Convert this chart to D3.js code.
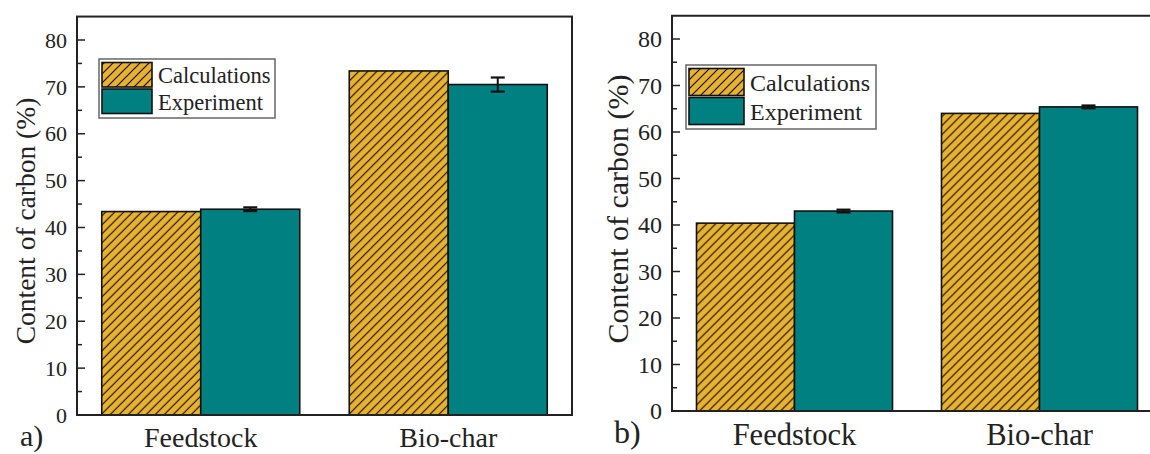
<!DOCTYPE html>
<html>
<head>
<meta charset="utf-8">
<script src="https://cdn.jsdelivr.net/npm/d3@7"></script>
<style>
  body { margin: 0; background: #fff; }
</style>
</head>
<body>
<svg id="fig" width="1150" height="454"></svg>
<script>
// data
const categories = ["Feedstock", "Bio-char"];
const seriesNames = ["Calculations", "Experiment"];
const yTicks = [0, 10, 20, 30, 40, 50, 60, 70, 80];

const calcA = [43.4, 73.4];
const expA = [43.9, 70.5];
const expErrA = [0.4, 1.5];

const calcB = [40.4, 64.0];
const expB = [43.0, 65.4];
const expErrB = [0.3, 0.3];

const orange = "#e8b130";
const teal = "#008080";
const serif = "Liberation Serif";

const svg = d3.select("#fig");

// hatch pattern for the calculated bars
const defs = svg.append("defs");
const hatch = defs.append("pattern")
    .attr("id", "hatch")
    .attr("patternUnits", "userSpaceOnUse")
    .attr("width", 9)
    .attr("height", 9);
hatch.append("rect").attr("width", 9).attr("height", 9).attr("fill", orange);
hatch.append("path")
    .attr("d", "M-1,1 L1,-1 M0,9 L9,0 M8,10 L10,8")
    .attr("stroke", "#111")
    .attr("stroke-width", 1.2);

// all labels go through this so the serif font sticks
function label(sel, size) {
    return sel.attr("font-family", serif)
        .style("font-family", serif, "important")
        .attr("font-size", size)
        .attr("fill", "#222");
}

function drawPanel(p) {
    const g = svg.append("g");

    const y = d3.scaleLinear().domain([0, 80]).range([p.bottom, p.top80]);
    const top = y(85);

    const x0 = d3.scaleBand()
        .domain(categories)
        .range([p.left, p.right])
        .paddingInner(0.2)
        .paddingOuter(0.1);
    const x1 = d3.scaleBand()
        .domain(seriesNames)
        .range([0, x0.bandwidth()]);

    // bars
    const rows = categories.map((c, i) => ({ cat: c, calc: p.calc[i], exp: p.exp[i], err: p.err[i] }));

    const grp = g.selectAll(".grp")
        .data(rows)
        .enter()
        .append("g")
        .attr("transform", d => `translate(${x0(d.cat)},0)`);

    grp.append("rect")
        .attr("x", x1("Calculations"))
        .attr("y", d => y(d.calc))
        .attr("width", x1.bandwidth())
        .attr("height", d => y(0) - y(d.calc))
        .attr("fill", "url(#hatch)")
        .attr("stroke", "#111")
        .attr("stroke-width", 1.6);

    grp.append("rect")
        .attr("x", x1("Experiment"))
        .attr("y", d => y(d.exp))
        .attr("width", x1.bandwidth())
        .attr("height", d => y(0) - y(d.exp))
        .attr("fill", teal)
        .attr("stroke", "#111")
        .attr("stroke-width", 1.6);

    // error bars
    const cx = x1("Experiment") + x1.bandwidth() / 2;
    const cap = 7;
    grp.append("line")
        .attr("x1", cx).attr("x2", cx)
        .attr("y1", d => y(d.exp + d.err))
        .attr("y2", d => y(d.exp - d.err))
        .attr("stroke", "#111").attr("stroke-width", 2);
    grp.append("line")
        .attr("x1", cx - cap).attr("x2", cx + cap)
        .attr("y1", d => y(d.exp + d.err))
        .attr("y2", d => y(d.exp + d.err))
        .attr("stroke", "#111").attr("stroke-width", 2.2);
    grp.append("line")
        .attr("x1", cx - cap).attr("x2", cx + cap)
        .attr("y1", d => y(d.exp - d.err))
        .attr("y2", d => y(d.exp - d.err))
        .attr("stroke", "#111").attr("stroke-width", 2.2);

    // frame
    g.append("rect")
        .attr("x", p.left)
        .attr("y", top)
        .attr("width", p.right - p.left)
        .attr("height", y(0) - top)
        .attr("fill", "none")
        .attr("stroke", "#222")
        .attr("stroke-width", 2);

    // y axis ticks (inward), minor ticks at the halves
    const minor = d3.range(5, 85, 10);
    g.selectAll(".minor")
        .data(minor)
        .enter()
        .append("line")
        .attr("x1", p.left).attr("x2", p.left + 5)
        .attr("y1", d => y(d)).attr("y2", d => y(d))
        .attr("stroke", "#222").attr("stroke-width", 1.5);
    g.selectAll(".major")
        .data(yTicks)
        .enter()
        .append("line")
        .attr("x1", p.left).attr("x2", p.left + 8)
        .attr("y1", d => y(d)).attr("y2", d => y(d))
        .attr("stroke", "#222").attr("stroke-width", 1.5);
    g.selectAll(".ylab")
        .data(yTicks)
        .enter()
        .append("text")
        .attr("x", p.left - 10)
        .attr("y", d => y(d))
        .attr("dy", "0.35em")
        .attr("text-anchor", "end")
        .call(label, p.tickFont)
        .text(d => d);

    // category labels
    g.selectAll(".xlab")
        .data(categories)
        .enter()
        .append("text")
        .attr("x", d => x0(d) + x0.bandwidth() / 2)
        .attr("y", p.catY)
        .attr("text-anchor", "middle")
        .call(label, p.catFont)
        .text(d => d);

    // y title
    g.append("text")
        .attr("transform", `translate(${p.titleX},${p.titleY}) rotate(-90)`)
        .attr("text-anchor", "middle")
        .attr("dy", "0.35em")
        .call(label, p.titleFont)
        .text("Content of carbon (%)");

    // panel letter
    g.append("text")
        .attr("x", p.letterX)
        .attr("y", p.letterY)
        .call(label, p.letterFont)
        .text(p.letter);

    // legend
    const lg = g.append("g").attr("transform", `translate(${p.legX},${p.legY})`);
    lg.append("rect")
        .attr("width", p.legW)
        .attr("height", p.legH)
        .attr("fill", "#fff")
        .attr("stroke", "#666")
        .attr("stroke-width", 1.5);
    const rowH = (p.legH - 6) / 2;
    seriesNames.forEach((s, i) => {
        lg.append("rect")
            .attr("x", 3)
            .attr("y", 3 + i * rowH + 0.5)
            .attr("width", p.swW)
            .attr("height", rowH - 2)
            .attr("fill", i === 0 ? "url(#hatch)" : teal)
            .attr("stroke", "#111")
            .attr("stroke-width", 1.6);
        lg.append("text")
            .attr("x", p.swW + 9)
            .attr("y", 3 + i * rowH + rowH / 2)
            .attr("dy", "0.35em")
            .call(label, p.legFont)
            .text(s);
    });
}

drawPanel({
    calc: calcA, exp: expA, err: expErrA,
    left: 77, right: 572, bottom: 415, top80: 40,
    tickFont: 22, catFont: 28, catY: 447, titleFont: 27.5, titleX: 25, titleY: 221,
    letter: "a)", letterX: 20, letterY: 446, letterFont: 30,
    legX: 99, legY: 59, legW: 176, legH: 59, swW: 50, legFont: 22.5
});

drawPanel({
    calc: calcB, exp: expB, err: expErrB,
    left: 672, right: 1162, bottom: 411, top80: 39,
    tickFont: 24, catFont: 30.5, catY: 445, titleFont: 30, titleX: 617, titleY: 209,
    letter: "b)", letterX: 614, letterY: 443, letterFont: 32,
    legX: 686, legY: 65, legW: 190, legH: 64, swW: 55, legFont: 24
});
</script>
</body>
</html>
